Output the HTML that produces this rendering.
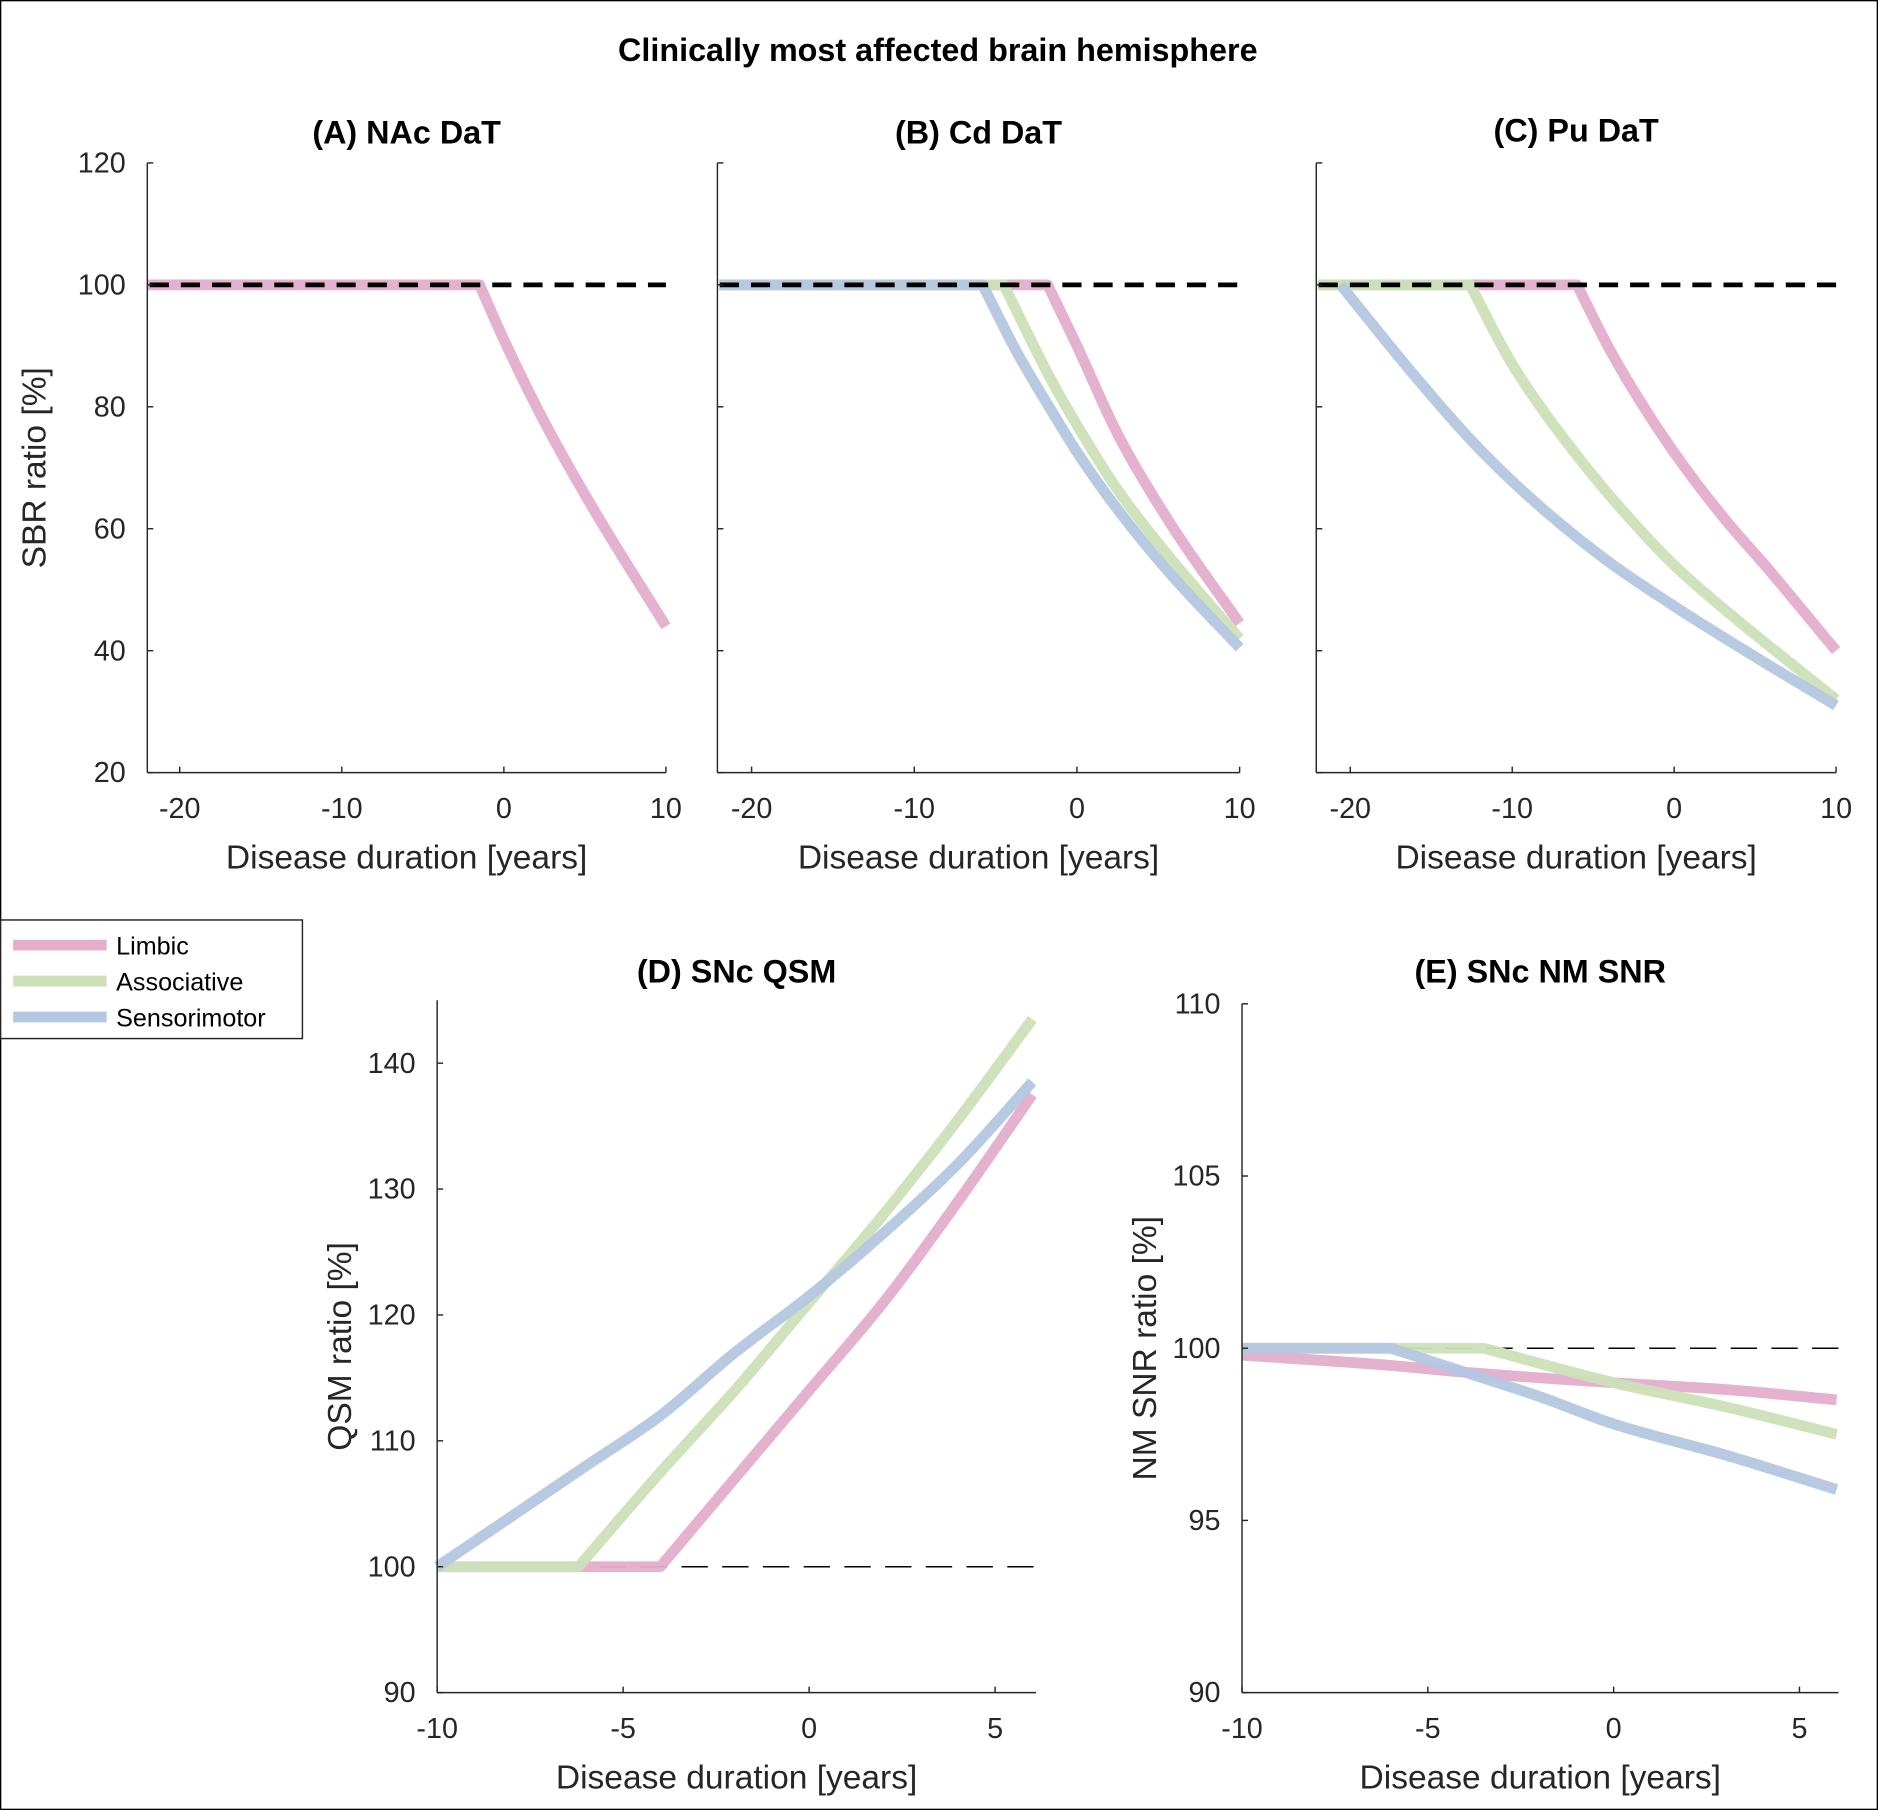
<!DOCTYPE html>
<html><head><meta charset="utf-8">
<style>
html,body{margin:0;padding:0;background:#fff;}
svg{display:block;font-family:"Liberation Sans",Arial,sans-serif;}
</style></head>
<body>
<svg id="fig" width="1878" height="1810" viewBox="0 0 1568 1511" preserveAspectRatio="none" xmlns="http://www.w3.org/2000/svg">
<rect x="0.5" y="0.5" width="1567" height="1510" fill="#fff" stroke="#000" stroke-width="1.2"/>
<text x="783" y="51" text-anchor="middle" font-weight="bold" font-size="27">Clinically most affected brain hemisphere</text>
<g id="plots"></g>
<g>
<rect x="0.5" y="768" width="252" height="99" fill="#fff" stroke="#222" stroke-width="1.2"/>
<line x1="11" y1="789" x2="89" y2="789" stroke="#e3aecb" stroke-width="9"/>
<text x="97" y="797" font-size="21">Limbic</text>
<line x1="11" y1="819" x2="89" y2="819" stroke="#cde0b8" stroke-width="9"/>
<text x="97" y="827" font-size="21">Associative</text>
<line x1="11" y1="849" x2="89" y2="849" stroke="#b3c7e0" stroke-width="9"/>
<text x="97" y="857" font-size="21">Sensorimotor</text>
</g>
</svg>
<script>
// Panel A
const aLimbicX=[-22,-1.5,0,2.6,5.8,10];
const aLimbicY=[100,100,91,77,62,44];
// Panel B
const bLimbicX=[-22,-1.8,0,2.6,5.8,10];
const bLimbicY=[100,100,90,75,60.6,44.5];
const bAssocX=[-22,-4.5,-1.6,0,2.6,5.8,10];
const bAssocY=[100,100,84.5,77,66,55,42];
const bSensX=[-22,-5.8,-3.7,-1.6,0,2.6,5.8,10];
const bSensY=[100,100,89,79.5,72.6,62.8,52.4,40.5];
// Panel C
const cLimbicX=[-22,-6,-4,-2,0,3,6,10];
const cLimbicY=[100,100,89.5,80.5,72.5,62,52.8,40];
const cAssocX=[-22,-12.6,-10,-6,-2,0,3,6,10];
const cAssocY=[100,100,87,72,59.5,54,47,40.5,32];
const cSensX=[-20.6,-16,-12,-8,-4,0,5,10];
const cSensY=[100,85,73,63,54.5,47.3,39,31];
// Panel D
const dLimbicX=[-10,-4,-2,0,2,4,6];
const dLimbicY=[100,100,107,114,121,129,137.5];
const dAssocX=[-10,-6.2,-4,-2,0,2,4,6];
const dAssocY=[100,100,107.5,114,121,128,135.5,143.5];
const dSensX=[-10,-8,-6,-4,-2,0,2,4,6];
const dSensY=[100,104,108,112,117,121.5,126.5,132,138.5];
// Panel E
const eLimbicX=[-10,-6,-4,0,3,6];
const eLimbicY=[99.8,99.5,99.3,99.0,98.8,98.5];
const eAssocX=[-10,-3.5,0,3,6];
const eAssocY=[100,100,99.0,98.3,97.5];
const eSensX=[-10,-6,-4,-2,0,3,6];
const eSensY=[100,100,99.3,98.6,97.8,96.9,95.9];
// ticks
const dtXTicks=[-20,-10,0,10];
const dtYTicks=[20,40,60,80,100,120];
const snXTicks=[-10,-5,0,5];
const qsmYTicks=[90,100,110,120,130,140];
const nmYTicks=[90,95,100,105,110];

const NS="http://www.w3.org/2000/svg";
const root=document.getElementById('plots');
const COL={limbic:"#e3aecb",assoc:"#cde0b8",sens:"#b3c7e0"};
function mk(tag,attrs,parent){const e=document.createElementNS(NS,tag);for(const k in attrs)e.setAttribute(k,attrs[k]);(parent||root).appendChild(e);return e;}

// monotone cubic path with sharp corners at flat-segment breakpoints
function monoPath(P){
  const n=P.length;
  if(n<3)return P.map((p,i)=>(i?'L':'M')+p[0].toFixed(1)+','+p[1].toFixed(1)).join(' ');
  const d=[],m=new Array(n);
  for(let i=0;i<n-1;i++)d.push((P[i+1][1]-P[i][1])/(P[i+1][0]-P[i][0]));
  m[0]=d[0];m[n-1]=d[n-2];
  const ml=new Array(n),mr=new Array(n);
  ml[0]=mr[0]=d[0];ml[n-1]=mr[n-1]=d[n-2];
  for(let i=1;i<n-1;i++){
    if(Math.abs(d[i-1])<1e-9||Math.abs(d[i])<1e-9){ml[i]=d[i-1];mr[i]=d[i];}
    else if(d[i-1]*d[i]<0){ml[i]=mr[i]=0;}
    else{const h0=P[i][0]-P[i-1][0],h1=P[i+1][0]-P[i][0];const w1=2*h1+h0,w2=h1+2*h0;ml[i]=mr[i]=(w1+w2)/(w1/d[i-1]+w2/d[i]);}
  }
  let s='M'+P[0][0].toFixed(1)+','+P[0][1].toFixed(1);
  for(let i=0;i<n-1;i++){
    const h=P[i+1][0]-P[i][0];
    s+=' C'+(P[i][0]+h/3).toFixed(1)+','+(P[i][1]+mr[i]*h/3).toFixed(1)+' '+(P[i+1][0]-h/3).toFixed(1)+','+(P[i+1][1]-ml[i+1]*h/3).toFixed(1)+' '+P[i+1][0].toFixed(1)+','+P[i+1][1].toFixed(1);
  }
  return s;
}

function panel(p){
  const g=mk('g',{});
  
  
  const sx=v=>p.x0+(v-p.xmin)/(p.xmax-p.xmin)*(p.x1-p.x0);
  const sy=v=>p.y0-(v-p.ymin)/(p.ymax-p.ymin)*(p.y0-p.y1);
  let dl=null;
  if(!p.thickDash){
    dl=mk('line',{x1:sx(p.xmin),x2:sx(p.xmax),y1:sy(100),y2:sy(100),stroke:"#000","stroke-width":1.3,"stroke-dasharray":"22 12"},g);
    
    
  }
  p.series.forEach(s=>{
    const pts=s.x.map((v,i)=>[sx(v),sy(s.y[i])]);
    const pe=mk('path',{d:monoPath(pts),fill:"none",stroke:COL[s.c],"stroke-width":9,"stroke-linejoin":"round","stroke-opacity":0.95},g);
    
    
  });
  if(p.thickDash){
    dl=mk('line',{x1:sx(p.xmin)+2,x2:sx(p.xmax),y1:sy(100),y2:sy(100),stroke:"#000","stroke-width":4,"stroke-dasharray":"16 10"},g);
    
    
  }
  const ax=mk('line',{x1:p.x0,x2:p.x1,y1:p.y0,y2:p.y0,stroke:"#262626","stroke-width":1.2},g);
  
  
  const ay=mk('line',{x1:p.x0,x2:p.x0,y1:p.y0,y2:p.y1,stroke:"#262626","stroke-width":1.2},g);
  
  
  p.xt.forEach(v=>{
    mk('line',{x1:sx(v),x2:sx(v),y1:p.y0,y2:p.y0-5,stroke:"#262626","stroke-width":1.2},g);
    const t=mk('text',{x:sx(v),y:p.y0+38,"text-anchor":"middle","font-size":24,fill:"#262626"},g);
    t.textContent=v;
    
    
  });
  p.yt.forEach(v=>{
    mk('line',{x1:p.x0,x2:p.x0+5,y1:sy(v),y2:sy(v),stroke:"#262626","stroke-width":1.2},g);
    if(p.ylabels){
      const t=mk('text',{x:p.x0-18,y:sy(v)+8,"text-anchor":"end","font-size":24,fill:"#262626"},g);
      t.textContent=v;
      
      
    }
  });
  const xl=mk('text',{x:(p.x0+p.x1)/2,y:p.y0+80,"text-anchor":"middle","font-size":28,fill:"#262626"},g);
  xl.textContent="Disease duration [years]";
  
  
  if(p.ytitle){
    const yc=(p.y0+p.y1)/2;
    const yl=mk('text',{x:p.ytx,y:yc,"text-anchor":"middle","font-size":28,fill:"#262626",transform:`rotate(-90 ${p.ytx} ${yc})`},g);
    yl.textContent=p.ytitle;
    
    
  }
  const ti=mk('text',{x:(p.x0+p.x1)/2,y:p.ty,"text-anchor":"middle","font-size":27,"font-weight":"bold"},g);
  ti.textContent=p.title;
  
  
}
const dtScaleY={ymin:20,ymax:120,y0:645,y1:136};
panel(Object.assign({id:'panel-a-nac-dat',title:'(A) NAc DaT',ty:120,x0:123,x1:556,xmin:-22,xmax:10,xt:dtXTicks,yt:dtYTicks,ylabels:true,ytitle:'SBR ratio [%]',ytx:38,thickDash:true,
  series:[{name:'line-a-limbic',c:'limbic',x:aLimbicX,y:aLimbicY}]},dtScaleY));
panel(Object.assign({id:'panel-b-cd-dat',title:'(B) Cd DaT',ty:120,x0:599,x1:1035,xmin:-22.1,xmax:10,xt:dtXTicks,yt:dtYTicks,ylabels:false,thickDash:true,
  series:[{name:'line-b-limbic',c:'limbic',x:bLimbicX,y:bLimbicY},{name:'line-b-associative',c:'assoc',x:bAssocX,y:bAssocY},{name:'line-b-sensorimotor',c:'sens',x:bSensX,y:bSensY}]},dtScaleY));
panel(Object.assign({id:'panel-c-pu-dat',title:'(C) Pu DaT',ty:118,x0:1099,x1:1533,xmin:-22.1,xmax:10,xt:dtXTicks,yt:dtYTicks,ylabels:false,thickDash:true,
  series:[{name:'line-c-limbic',c:'limbic',x:cLimbicX,y:cLimbicY},{name:'line-c-associative',c:'assoc',x:cAssocX,y:cAssocY},{name:'line-c-sensorimotor',c:'sens',x:cSensX,y:cSensY}]},dtScaleY));
panel({id:'panel-d-snc-qsm',title:'(D) SNc QSM',ty:820,x0:365,x1:865,xmin:-10,xmax:6.1,y0:1413,y1:835,ymin:90,ymax:145,xt:snXTicks,yt:qsmYTicks,ylabels:true,ytitle:'QSM ratio [%]',ytx:293,thickDash:false,
  series:[{name:'line-d-limbic',c:'limbic',x:dLimbicX,y:dLimbicY},{name:'line-d-associative',c:'assoc',x:dAssocX,y:dAssocY},{name:'line-d-sensorimotor',c:'sens',x:dSensX,y:dSensY}]});
panel({id:'panel-e-snc-nm-snr',title:'(E) SNc NM SNR',ty:820,x0:1037,x1:1535,xmin:-10,xmax:6.05,y0:1413,y1:838,ymin:90,ymax:110,xt:snXTicks,yt:nmYTicks,ylabels:true,ytitle:'NM SNR ratio [%]',ytx:965,thickDash:false,
  series:[{name:'line-e-limbic',c:'limbic',x:eLimbicX,y:eLimbicY},{name:'line-e-associative',c:'assoc',x:eAssocX,y:eAssocY},{name:'line-e-sensorimotor',c:'sens',x:eSensX,y:eSensY}]});
</script>
</body></html>
